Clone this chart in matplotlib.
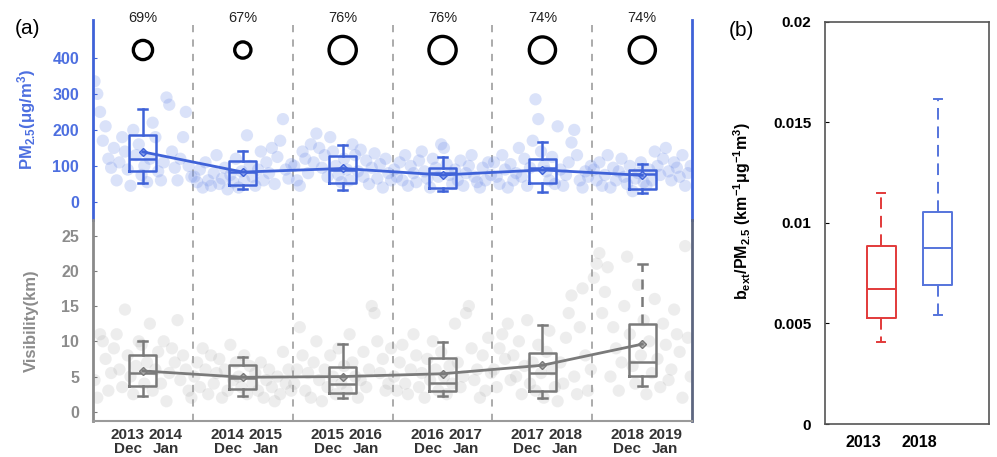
import numpy as np
import matplotlib
matplotlib.use("Agg")
import matplotlib.pyplot as plt
from matplotlib.transforms import blended_transform_factory, ScaledTranslation

# ============================================================
# FONTES
# ============================================================

plt.rcParams["font.family"] = ["Liberation Sans", "DejaVu Sans"]
plt.rcParams["font.weight"] = "bold"
plt.rcParams["mathtext.fontset"] = "custom"
plt.rcParams["mathtext.rm"] = "Liberation Sans:bold"
plt.rcParams["mathtext.it"] = "Liberation Sans:bold"
plt.rcParams["mathtext.bf"] = "Liberation Sans:bold"
plt.rcParams["mathtext.default"] = "rm"

# ============================================================
# DADOS
# ============================================================

tick_labels = [
    "2013\nDec", "2014\nJan", "2014\nDec", "2015\nJan",
    "2015\nDec", "2016\nJan", "2016\nDec", "2017\nJan",
    "2017\nDec", "2018\nJan", "2018\nDec", "2019\nJan",
]

share_labels = ["69%", "67%", "76%", "76%", "74%", "74%"]
share_circle_px = [22, 19, 30, 30, 29, 29]

# PM2.5 diario por inverno (ug/m3)
pm_daily = [
    [335, 300, 250, 170, 210, 120, 95, 150, 60, 110, 180, 140, 90, 45, 200, 130, 160, 75,
     100, 55, 120, 220, 180, 85, 60, 110, 290, 270, 140, 95, 60, 120, 180, 250, 100, 70],
    [70, 55, 90, 40, 110, 60, 45, 80, 130, 50, 65, 95, 35, 75, 55, 120, 40, 85,
     60, 185, 100, 70, 45, 90, 140, 60, 110, 80, 150, 50, 125, 170, 230, 90, 65, 105],
    [100, 60, 45, 140, 120, 80, 160, 110, 190, 150, 95, 130, 70, 180, 140, 100, 75, 55,
     120, 90, 60, 160, 130, 85, 145, 70, 115, 50, 95, 135, 65, 105, 40, 120, 80, 60],
    [90, 70, 110, 60, 130, 45, 100, 80, 55, 115, 140, 85, 65, 40, 120, 95, 70, 160,
     150, 105, 75, 50, 90, 60, 115, 45, 80, 100, 130, 70, 55, 40, 95, 60, 110, 75],
    [110, 70, 50, 130, 90, 40, 105, 60, 80, 150, 70, 120, 45, 95, 170, 285, 230, 140,
     100, 85, 60, 125, 50, 210, 90, 45, 75, 110, 165, 200, 130, 60, 40, 85, 70, 100],
    [90, 60, 110, 45, 75, 130, 40, 95, 60, 85, 120, 70, 50, 100, 30, 65, 80, 110,
     55, 45, 90, 60, 140, 100, 75, 120, 150, 85, 60, 110, 95, 70, 130, 45, 80, 100],
]

# visibilidade diaria por inverno (km)
vis_daily = [
    [4.5, 2, 11, 10, 7.5, 3, 5.5, 9, 11, 6, 3.5, 14.5, 8, 5, 2.5, 6.5, 10, 9.5,
     4, 7, 12.5, 3, 6, 8.5, 4, 10, 1.5, 5.5, 9, 7, 13, 4.5, 8, 6, 3, 2],
    [5, 7, 3.5, 9, 6, 2.5, 8, 4, 5.5, 7.5, 2, 6, 3, 9.5, 4.5, 7, 5, 3.5,
     8, 2.5, 6.5, 4, 5.5, 3, 7, 2, 4.5, 6, 3.5, 1.5, 5, 2.5, 8.5, 4, 6, 3],
    [4, 6, 12, 8, 3, 5.5, 2, 7, 10, 4.5, 1.5, 6, 3.5, 8, 5, 2.5, 9, 4,
     6.5, 3, 11, 7, 5, 2, 4.5, 8.5, 3.5, 6, 15, 14, 10, 5.5, 7.5, 3, 4, 9],
    [5, 3, 7, 9.5, 4, 2.5, 6, 11, 8, 3.5, 5.5, 2, 7.5, 4.5, 10, 6, 3, 8.5,
     5, 2.5, 6.5, 4, 12.5, 7, 3.5, 5, 14, 15, 9, 4.5, 6, 2, 8, 3, 10.5, 5.5],
    [6, 3.5, 9, 11, 7.5, 12.5, 4.5, 8, 5, 10, 2.5, 6.5, 13, 4, 7, 3, 9.5, 5.5,
     2, 8.5, 11.5, 6, 3.5, 1.5, 7, 4, 10.5, 14, 16.5, 5, 2.5, 12, 17.5, 8, 3, 6],
    [19, 21, 22.5, 14, 17, 20.5, 5, 12, 9, 3, 7, 15, 22, 11, 6.5, 4, 18, 8,
     13, 2.5, 10, 5.5, 16, 7.5, 3.5, 12.5, 9.5, 4.5, 6, 14.5, 11, 8.5, 2, 23.5, 10.5, 5],
]

# estatisticas dos boxplots (a)
pm_whislo = [53, 36, 34, 30, 28, 25]
pm_q1 = [86, 47, 54, 39, 53, 36]
pm_med = [119, 83, 88, 80, 94, 78]
pm_q3 = [186, 114, 128, 95, 120, 89]
pm_whishi = [258, 142, 157, 125, 167, 105]
pm_mean = [139, 83, 93, 75, 89, 74]

vis_whislo = [2.3, 2.2, 2.0, 2.3, 1.9, 3.6]
vis_q1 = [3.6, 3.3, 2.6, 3.0, 3.0, 5.1]
vis_med = [5.5, 4.8, 4.0, 4.1, 5.5, 7.1]
vis_q3 = [8.0, 6.7, 6.4, 7.7, 8.4, 12.4]
vis_whishi = [10.1, 7.8, 9.6, 9.9, 12.3, 20.9]
vis_mean = [5.8, 4.9, 5.0, 5.4, 6.6, 9.6]

# razao bext/PM2.5 (b)
ratio_years = ["2013", "2018"]
ratio_whislo = [0.00406, 0.00540]
ratio_q1 = [0.00525, 0.00690]
ratio_med = [0.00672, 0.00876]
ratio_q3 = [0.00888, 0.01056]
ratio_whishi = [0.01150, 0.01618]

# ============================================================
# CORES
# ============================================================

BLUE = "#3f62d8"
BLUE_TICK = "#4d6fe0"
GRAY = "#7a7a7a"
GRAY_TEXT = "#8c8c8c"
RED = "#e23a3a"
BLUE_B = "#5574dc"


def montar_stats(lo, q1, med, q3, hi, mean=None):
    stats = []
    for i in range(len(med)):
        d = {"whislo": lo[i], "q1": q1[i], "med": med[i], "q3": q3[i],
             "whishi": hi[i], "fliers": []}
        if mean is not None:
            d["mean"] = mean[i]
        stats.append(d)
    return stats


# ============================================================
# FIGURA
# ============================================================

fig = plt.figure(figsize=(9.97, 4.57), dpi=100)

ax_pm = fig.add_axes([0.0933, 0.5186, 0.601, 0.4376])
ax_vis = fig.add_axes([0.0933, 0.0788, 0.601, 0.4398])
ax_b = fig.add_axes([0.8275, 0.0722, 0.164, 0.8797])

n_seasons = len(pm_daily)
centers = [100 * i + 50 for i in range(n_seasons)]

# ============================================================
# (a) PM2.5
# ============================================================

for i in range(n_seasons):
    days = 100 * i + np.linspace(1.5, 98.5, len(pm_daily[i]))
    ax_pm.scatter(days, pm_daily[i], s=78, color="#6f8ee8", alpha=0.25,
                  edgecolors="none", zorder=1)
    days_v = 100 * i + np.linspace(1.5, 98.5, len(vis_daily[i]))
    ax_vis.scatter(days_v, vis_daily[i], s=78, color="#9a9a9a", alpha=0.17,
                   edgecolors="none", zorder=1)

for ax in (ax_pm, ax_vis):
    for k in range(1, n_seasons):
        ax.axvline(100 * k, color="#a5a5a5", lw=1.3, ls=(0, (4, 4)), zorder=0)

pm_parts = ax_pm.bxp(
    montar_stats(pm_whislo, pm_q1, pm_med, pm_q3, pm_whishi, pm_mean),
    positions=centers, widths=27, capwidths=9, showmeans=True,
    showfliers=False, manage_ticks=False,
    boxprops=dict(color=BLUE, lw=1.8),
    whiskerprops=dict(color=BLUE, lw=1.8),
    capprops=dict(color=BLUE, lw=1.8),
    medianprops=dict(color=BLUE, lw=1.8),
    meanprops=dict(marker="D", markersize=4.5, markeredgecolor=BLUE,
                   markerfacecolor="#8fa6ee"),
)
ax_pm.plot(centers, pm_mean, color=BLUE, lw=2, zorder=3)

ax_pm.set_xlim(0, 600)
ax_pm.set_ylim(-50, 505)
ax_pm.set_yticks([0, 100, 200, 300, 400])
ax_pm.set_xticks([])
ax_pm.tick_params(axis="y", direction="in", length=3, pad=10, colors=BLUE,
                  labelcolor=BLUE_TICK, labelsize=11.5)
for lab in ax_pm.get_yticklabels():
    lab.set_fontweight("bold")

ax_pm.spines["top"].set_visible(False)
ax_pm.spines["bottom"].set_visible(False)
ax_pm.spines["left"].set_color(BLUE)
ax_pm.spines["right"].set_color(BLUE)
ax_pm.spines["left"].set_linewidth(2)
ax_pm.spines["right"].set_linewidth(2)
ax_pm.patch.set_alpha(0)

ax_pm.set_ylabel("PM$_{2.5}$(μg/m$^{3}$)", color=BLUE_TICK, fontsize=12,
                 fontweight="bold")
ax_pm.yaxis.set_label_coords(-0.091, 0.5)

# circulos e percentuais
trans = blended_transform_factory(ax_pm.transData, ax_pm.transAxes)
ax_pm.scatter(centers, [0.85] * n_seasons, transform=trans,
              s=[(d * 0.72 - 2) ** 2 for d in share_circle_px],
              facecolors="none", edgecolors="black", linewidths=2.4,
              clip_on=False, zorder=5)
for i in range(n_seasons):
    ax_pm.text(centers[i], 1.01, share_labels[i], transform=trans,
               ha="center", va="center", fontsize=10.5, fontweight="normal",
               color="#222222", clip_on=False)

# ============================================================
# (a) VISIBILIDADE
# ============================================================

vis_parts = ax_vis.bxp(
    montar_stats(vis_whislo, vis_q1, vis_med, vis_q3, vis_whishi, vis_mean),
    positions=centers, widths=27, capwidths=9, showmeans=True,
    showfliers=False, manage_ticks=False,
    boxprops=dict(color=GRAY, lw=1.8),
    whiskerprops=dict(color=GRAY, lw=1.8),
    capprops=dict(color=GRAY, lw=1.8),
    medianprops=dict(color=GRAY, lw=1.8),
    meanprops=dict(marker="D", markersize=4.5, markeredgecolor=GRAY,
                   markerfacecolor="#b0b0b0"),
)
vis_parts["whiskers"][-1].set_linestyle((0, (4, 3)))
ax_vis.plot(centers, vis_mean, color=GRAY, lw=2, zorder=3)

ax_vis.set_xlim(0, 600)
ax_vis.set_ylim(-1.3, 27.2)
ax_vis.set_yticks([0, 5, 10, 15, 20, 25])

xtick_pos = []
for i in range(n_seasons):
    xtick_pos += [100 * i + 35, 100 * i + 73]
ax_vis.set_xticks(xtick_pos)
ax_vis.set_xticklabels(tick_labels, fontsize=11, fontweight="bold",
                       color="#333333", linespacing=1.0)
ax_vis.tick_params(axis="x", length=0, pad=5)
ax_vis.tick_params(axis="y", direction="in", length=3, pad=10, colors=GRAY,
                   labelcolor=GRAY_TEXT, labelsize=11.5)
for lab in ax_vis.get_yticklabels():
    lab.set_fontweight("bold")

ax_vis.spines["top"].set_visible(False)
ax_vis.spines["left"].set_color("#8a8a8a")
ax_vis.spines["bottom"].set_color("#9a9a9a")
ax_vis.spines["right"].set_color("#5d6680")
ax_vis.spines["left"].set_linewidth(2)
ax_vis.spines["right"].set_linewidth(2)
ax_vis.spines["bottom"].set_linewidth(1.5)
ax_vis.patch.set_alpha(0)

ax_vis.set_ylabel("Visibility(km)", color=GRAY_TEXT, fontsize=12,
                  fontweight="bold")
ax_vis.yaxis.set_label_coords(-0.091, 0.5)

# ============================================================
# (b) RAZAO
# ============================================================

ratio_stats = montar_stats(ratio_whislo, ratio_q1, ratio_med, ratio_q3,
                           ratio_whishi)
ratio_colors = [RED, BLUE_B]
for i in range(len(ratio_years)):
    c = ratio_colors[i]
    ax_b.bxp([ratio_stats[i]], positions=[i + 1], widths=0.52,
             capwidths=0.14, showfliers=False, manage_ticks=False,
             boxprops=dict(color=c, lw=1.4),
             whiskerprops=dict(color=c, lw=1.4, ls=(0, (6, 3.5))),
             capprops=dict(color=c, lw=1.4),
             medianprops=dict(color=c, lw=1.4))

ax_b.set_xlim(0, 2.9)
ax_b.set_ylim(0, 0.02)
ax_b.set_yticks([0, 0.005, 0.01, 0.015, 0.02])
ax_b.set_yticklabels(["0", "0.005", "0.01", "0.015", "0.02"])
ax_b.set_xticks([1, 2])
ax_b.set_xticklabels(ratio_years)
ax_b.tick_params(axis="y", direction="in", length=3, pad=10, labelsize=11)
ax_b.tick_params(axis="x", length=0, labelsize=11.5, pad=8)
for lab in ax_b.get_yticklabels() + ax_b.get_xticklabels():
    lab.set_fontweight("bold")
offset = ScaledTranslation(-0.18, 0, fig.dpi_scale_trans)
for lab in ax_b.get_xticklabels():
    lab.set_transform(lab.get_transform() + offset)
for sp in ax_b.spines.values():
    sp.set_color("#555555")
    sp.set_linewidth(1.2)

ax_b.set_ylabel("b$_{ext}$/PM$_{2.5}$ (km$^{-1}$μg$^{-1}$m$^{3}$)",
                fontsize=11.5, fontweight="bold")
ax_b.yaxis.set_label_coords(-0.44, 0.53)

# ============================================================
# ROTULOS DOS PAINEIS
# ============================================================

fig.text(15 / 997, 1 - 29 / 457, "(a)", fontsize=15, fontweight="normal",
         va="center", ha="left")
fig.text(729 / 997, 1 - 30 / 457, "(b)", fontsize=15, fontweight="normal",
         va="center", ha="left")

plt.savefig("out.png", dpi=100)
plt.close()
